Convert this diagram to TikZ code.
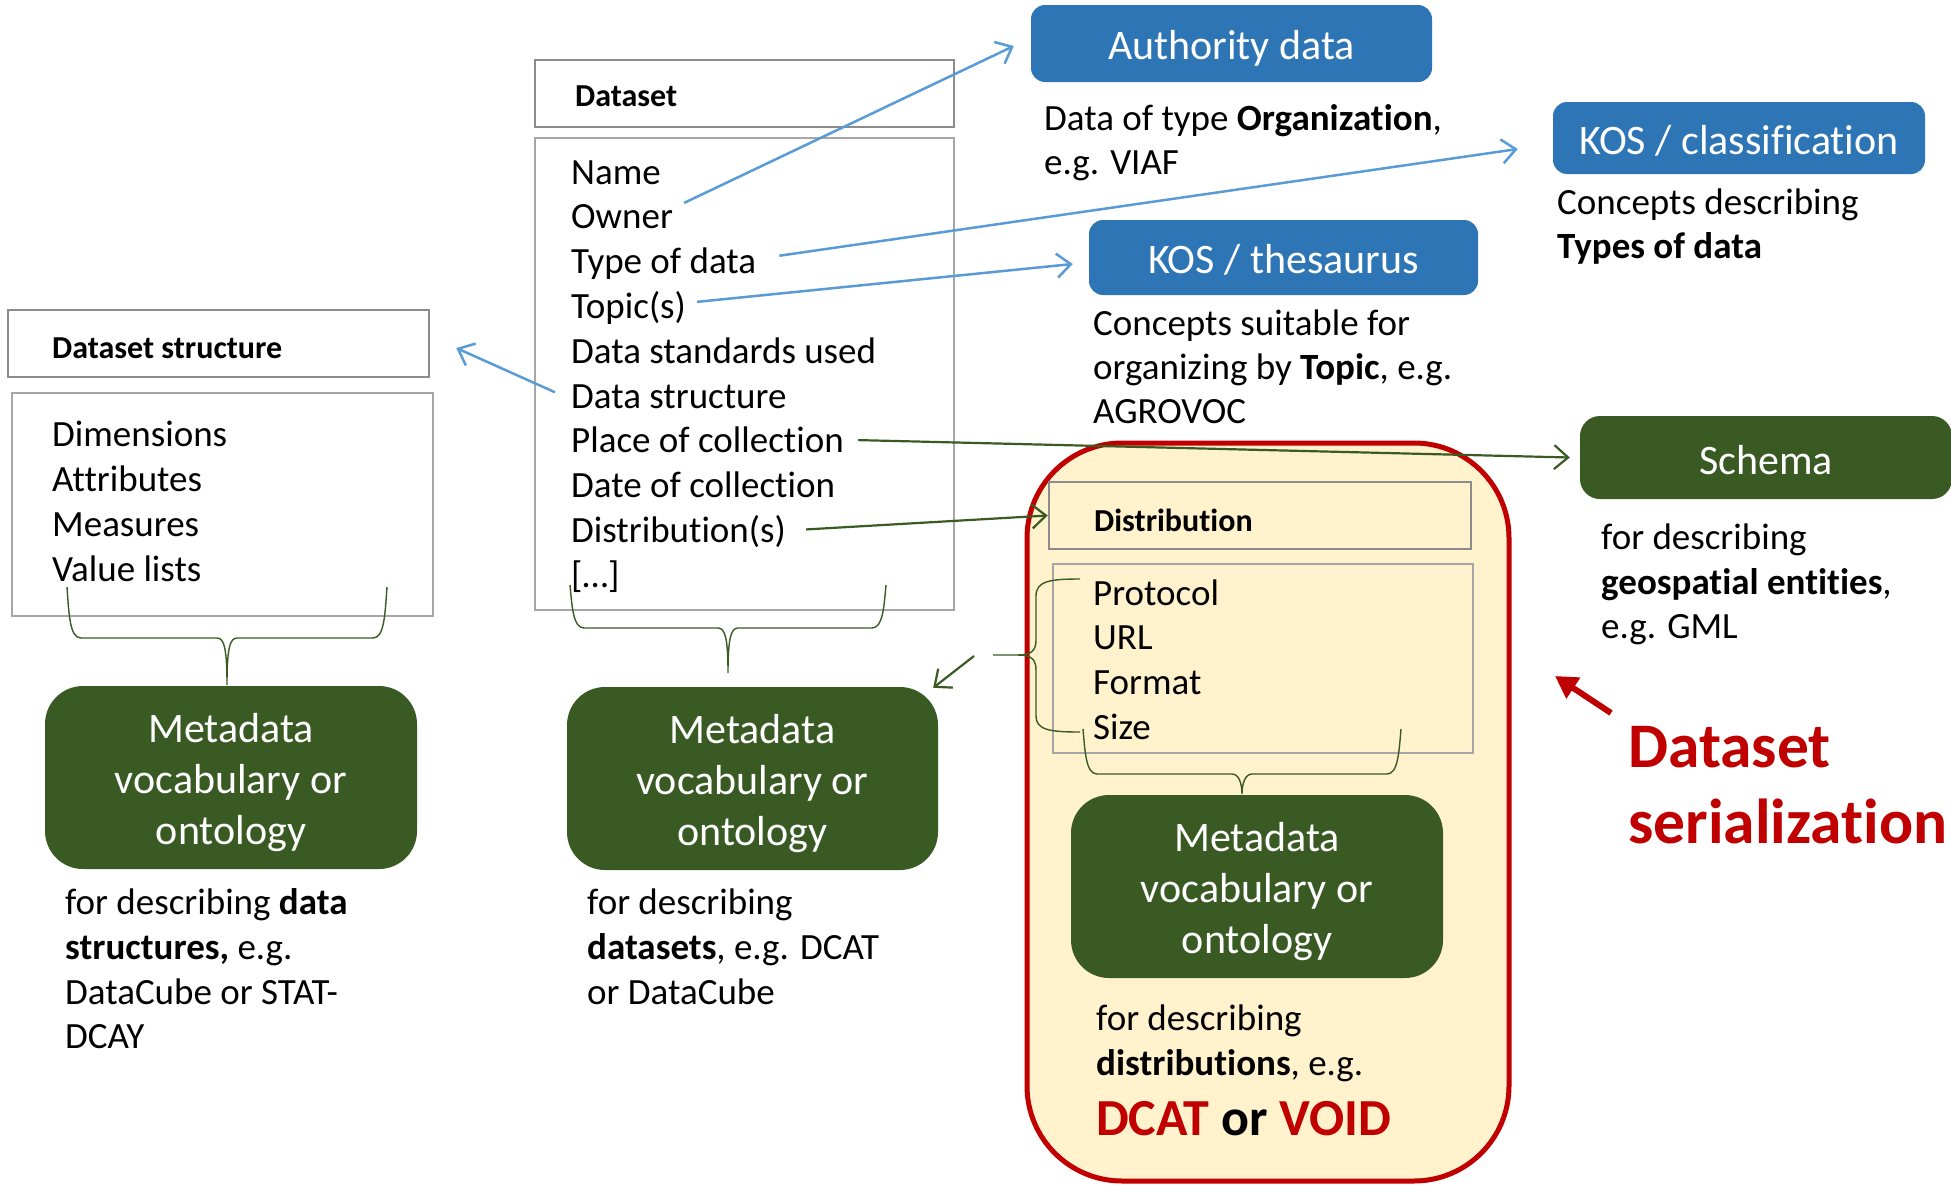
\documentclass[tikz,border=0pt]{standalone}
\usepackage{fontspec}
\setmainfont{Carlito}[Ligatures=NoCommon]
\usetikzlibrary{arrows.meta,calc}
\definecolor{kosblue}{HTML}{2E75B6}
\definecolor{arrblue}{HTML}{5B9BD5}
\definecolor{mdgreen}{HTML}{3A5A24}
\definecolor{redc}{HTML}{C00000}
\definecolor{yel}{HTML}{FFF2CC}
\definecolor{hdrgray}{HTML}{8C8C8C}
\definecolor{bodygray}{HTML}{A6A6A6}
\newcommand\mybracedown[5]{%
  \pgfmathsetmacro\bmid{(#1+#2)/2}%
  \draw[bracel] (#1,#3) .. controls (#1+2,#4-22) and (#1+3,#4) .. (#1+14,#4) -- (\bmid-10,#4)
    .. controls (\bmid-3,#4) and (\bmid,#4+10) .. (\bmid,#5)
    .. controls (\bmid,#4+10) and (\bmid+3,#4) .. (\bmid+10,#4) -- (#2-14,#4)
    .. controls (#2-3,#4) and (#2-2,#4-22) .. (#2,#3);}
\begin{document}
\begin{tikzpicture}[x=1pt,y=-1pt,
  hdrbox/.style={draw=hdrgray, line width=2.5pt, inner sep=0pt},
  bodybox/.style={draw=bodygray, line width=2pt, inner sep=0pt},
  kosbox/.style={fill=kosblue, rounded corners=14pt, inner sep=0pt},
  mdbox/.style={fill=mdgreen, rounded corners=38pt, inner sep=0pt},
  boxtxt/.style={text=white, align=center, font=\fontsize{42}{51}\selectfont, inner sep=0pt},
  hdrtxt/.style={anchor=west, inner sep=0pt, font=\fontsize{32}{38}\selectfont\bfseries},
  item/.style={anchor=base west, inner sep=0pt, font=\fontsize{37}{44.8}\selectfont},
  barrow/.style={draw=arrblue, line width=2.5pt, -{Straight Barb[length=14pt,width=24pt]}},
  garrow/.style={draw=mdgreen, line width=2.2pt, -{Straight Barb[length=14pt,width=24pt]}},
  bracel/.style={draw=mdgreen, line width=1.4pt}]
\fill[white] (0,0) rectangle (1951,1186);
\useasboundingbox (0,0) rectangle (1951,1186);

% serialization frame
\node[draw=redc, line width=5pt, fill=yel, rounded corners=95pt, minimum width=482pt, minimum height=738pt, inner sep=0pt] (ser) at (1268,812) {};

% Dataset
\node[hdrbox, minimum width=419pt, minimum height=67pt] (dshdr) at (744.5,93.5) {};
\node[bodybox, minimum width=419pt, minimum height=472pt] (dsbody) at (744.5,374) {};
\node[hdrtxt] (dstitle) at (575,96) {Dataset};
\node[item] (iname)  at (571,184) {Name};
\node[item] (iowner) at (571,228.8) {Owner};
\node[item] (itype)  at (571,273.6) {Type of data};
\node[item] (itopic) at (571,318.4) {Topic(s)};
\node[item] (istd)   at (571,363.2) {Data standards used};
\node[item] (istruct) at (571,408) {Data structure};
\node[item] (iplace) at (571,452.8) {Place of collection};
\node[item] (idate)  at (571,497.6) {Date of collection};
\node[item] (idist)  at (571,542.4) {Distribution(s)};
\node[item] (imore)  at (571,587.2) {[…]};

% Dataset structure
\node[hdrbox, minimum width=421pt, minimum height=67pt] (sthdr) at (218.5,343.5) {};
\node[bodybox, minimum width=421pt, minimum height=223pt] (stbody) at (222.5,504.5) {};
\node[hdrtxt] (sttitle) at (52,348) {Dataset structure};
\node[item] (sdim) at (52,446) {Dimensions};
\node[item] (satt) at (52,491) {Attributes};
\node[item] (smea) at (52,536) {Measures};
\node[item] (sval) at (52,581) {Value lists};

% Distribution
\node[hdrbox, minimum width=422pt, minimum height=67pt] (dihdr) at (1260,515.5) {};
\node[bodybox, minimum width=420pt, minimum height=189pt] (dibody) at (1263,658.5) {};
\node[hdrtxt] (dititle) at (1094,520) {Distribution};
\node[item] (dprot) at (1093,605) {Protocol};
\node[item] (durl)  at (1093,649) {URL};
\node[item] (dform) at (1093,694) {Format};
\node[item] (dsize) at (1093,739) {Size};

% Blue KOS boxes
\node[kosbox, minimum width=401pt, minimum height=77pt] (auth) at (1231.5,43.5) {};
\node[boxtxt] (autht) at (1231.5,48.5) {Authority data};
\node[kosbox, minimum width=372pt, minimum height=72pt] (kosc) at (1739,138) {};
\node[boxtxt] (kosct) at (1739,140.5) {KOS / classification};
\node[kosbox, minimum width=389pt, minimum height=75pt] (kost) at (1283.5,257.5) {};
\node[boxtxt] (kostt) at (1283.5,260) {KOS / thesaurus};
\node[item] (authd1) at (1044,130) {Data of type \textbf{Organization},};
\node[item] (authd2) at (1044,174) {e.g. VIAF};
\node[item] (koscd1) at (1557,214) {Concepts describing};
\node[item] (koscd2) at (1557,258) {\textbf{Types of data}};
\node[item] (kostd1) at (1093,335) {Concepts suitable for};
\node[item] (kostd2) at (1093,379) {organizing by \textbf{Topic}, e.g.};
\node[item] (kostd3) at (1093,423) {AGROVOC};

% Schema
\node[mdbox, rounded corners=20pt, minimum width=372pt, minimum height=83pt] (schema) at (1766,457.5) {};
\node[boxtxt] (schemat) at (1766,460) {Schema};
\node[item] (schd1) at (1601,549) {for describing};
\node[item] (schd2) at (1601,594) {\textbf{geospatial entities},};
\node[item] (schd3) at (1601,638) {e.g. GML};

% Metadata boxes
\node[mdbox, minimum width=372pt, minimum height=183pt] (md1) at (231,777.5) {};
\node[boxtxt] (md1t) at (231,782.5) {Metadata\\vocabulary or\\ontology};
\node[mdbox, minimum width=371pt, minimum height=183pt] (md2) at (752.5,778.5) {};
\node[boxtxt] (md2t) at (752.5,783.5) {Metadata\\vocabulary or\\ontology};
\node[mdbox, minimum width=372pt, minimum height=183pt] (md3) at (1257,886.5) {};
\node[boxtxt] (md3t) at (1257,891.5) {Metadata\\vocabulary or\\ontology};

\node[item] (m1d1) at (65,914) {for describing \textbf{data}};
\node[item] (m1d2) at (65,959) {\textbf{structures,} e.g.};
\node[item] (m1d3) at (65,1004) {DataCube or STAT-};
\node[item] (m1d4) at (65,1048) {DCAY};
\node[item] (m2d1) at (587,914) {for describing};
\node[item] (m2d2) at (587,959) {\textbf{datasets}, e.g. DCAT};
\node[item] (m2d3) at (587,1004) {or DataCube};
\node[item] (m3d1) at (1096,1030) {for describing};
\node[item] (m3d2) at (1096,1075) {\textbf{distributions}, e.g.};
\node[item, font=\fontsize{52}{62}\selectfont\bfseries] (m3d3) at (1096,1135) {\textcolor{redc}{DCAT} or \textcolor{redc}{VOID}};

% Dataset serialization label
\node[anchor=base west, inner sep=0pt, text=redc, font=\fontsize{63.5}{76}\selectfont\bfseries] (serl1) at (1628,767) {Dataset};
\node[anchor=base west, inner sep=0pt, text=redc, font=\fontsize{63.5}{76}\selectfont\bfseries] (serl2) at (1628,843) {serialization};
\draw[draw=redc, line width=6pt, -{Triangle[length=22pt,width=24pt]}] ([shift={(-17,-54)}]serl1.base west) -- ([shift={(-73,-91)}]serl1.base west);

% braces
\mybracedown{67}{387}{587}{638}{685}
\mybracedown{570}{886}{585}{628}{673}
\mybracedown{1083}{1401}{729}{774}{794}
\coordinate (dbtip) at (993,655);
\draw[bracel] (1080,579) .. controls (1050,579) and (1036,581) .. (1036,596) -- (1036,640)
   .. controls (1036,651) and (1031,655) .. (1018,655) -- (dbtip);
\draw[bracel] (1080,732) .. controls (1050,732) and (1036,730) .. (1036,716) -- (1036,670)
   .. controls (1036,659) and (1031,655) .. (1018,655);

% connectors
\draw[barrow] ([shift={(11,-14)}]iowner.east) -- ([shift={(-17,2.5)}]auth.west);
\draw[barrow] ([shift={(23,-8)}]itype.east) -- ([shift={(-35,11)}]kosc.west);
\draw[barrow] ([shift={(11,-6)}]itopic.east) -- ([shift={(-16,6.5)}]kost.west);
\draw[barrow] ([shift={(-16,-4)}]istruct.west) -- ([shift={(26,4.5)}]sthdr.east);
\draw[garrow] ([shift={(14,0)}]iplace.east) -- ([shift={(-10,0)}]schema.west);
\draw[garrow] ([shift={(20,-2)}]idist.east) -- (dihdr.west);
\draw[garrow] ([shift={(-19,1)}]dbtip) -- ([shift={(-5,1)}]md2.north east);
\end{tikzpicture}
\end{document}
